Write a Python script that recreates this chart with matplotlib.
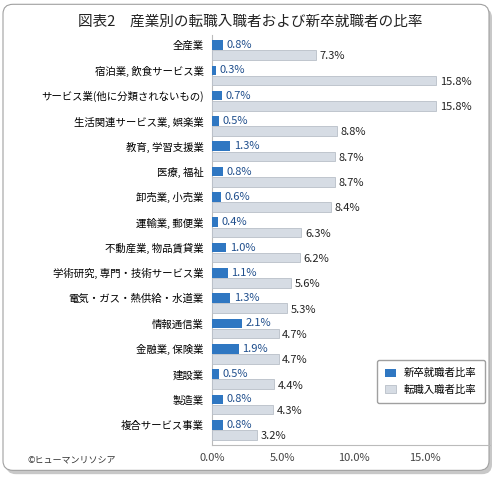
import matplotlib
matplotlib.use("Agg")
import matplotlib.pyplot as plt
from matplotlib.patches import FancyBboxPatch

plt.rcParams['font.family'] = ['Noto Sans CJK JP', 'DejaVu Sans']

categories = ["全産業", "宿泊業, 飲食サービス業", "サービス業(他に分類されないもの)",
              "生活関連サービス業, 娯楽業", "教育, 学習支援業", "医療, 福祉",
              "卸売業, 小売業", "運輸業, 郵便業", "不動産業, 物品賃貸業",
              "学術研究, 専門・技術サービス業", "電気・ガス・熱供給・水道業",
              "情報通信業", "金融業, 保険業", "建設業", "製造業", "複合サービス事業"]
new_grad = [0.8, 0.3, 0.7, 0.5, 1.3, 0.8, 0.6, 0.4, 1.0, 1.1, 1.3, 2.1, 1.9, 0.5, 0.8, 0.8]
job_change = [7.3, 15.8, 15.8, 8.8, 8.7, 8.7, 8.4, 6.3, 6.2, 5.6, 5.3, 4.7, 4.7, 4.4, 4.3, 3.2]
ticks = [0, 5, 10, 15]

BLUE = "#2f77c2"
GRAY = "#d6dce4"

fig = plt.figure(figsize=(5, 4.78), dpi=100)
# frame with shadow
fig.patches.append(FancyBboxPatch((0.012, 0.008), 0.972, 0.975, boxstyle="round,pad=0,rounding_size=0.02",
                                  transform=fig.transFigure, facecolor="#c8c8c8", edgecolor="none", zorder=-2))
fig.patches.append(FancyBboxPatch((0.006, 0.016), 0.972, 0.975, boxstyle="round,pad=0,rounding_size=0.02",
                                  transform=fig.transFigure, facecolor="white", edgecolor="#a0a0a0",
                                  linewidth=0.8, zorder=-1))

ax = fig.add_axes([0.424, 0.069, 0.556, 0.858])
ax.set_zorder(2)
ax.set_facecolor("none")
y = list(range(len(categories)))
yb = [v - 0.2 for v in y]
yg = [v + 0.2 for v in y]
ax.barh(yb, new_grad, height=0.38, color=BLUE, zorder=3)
ax.barh(yg, job_change, height=0.38, color=GRAY, edgecolor="#b8bfc8", linewidth=0.6, zorder=3)
for yy, v in zip(yb, new_grad):
    ax.text(v + 0.25, yy, f"{v:.1f}%", va="center", fontsize=8, color="#1f4e8c")
for yy, v in zip(yg, job_change):
    ax.text(v + 0.25, yy + 0.05, f"{v:.1f}%", va="center", fontsize=8, color="#222222")

ax.set_ylim(15.6, -0.6)
ax.set_xlim(0, 19.6)
ax.set_yticks(yb)
ax.set_yticklabels(categories, fontsize=7.5)
ax.set_xticks(ticks)
ax.set_xticklabels([f"{t:.1f}%" for t in ticks], fontsize=8, color="#444444")
ax.tick_params(length=0, pad=6)
for s in ["top", "right"]:
    ax.spines[s].set_visible(False)
ax.spines["bottom"].set_color("#bbbbbb")
ax.spines["left"].set_color("#bbbbbb")

leg = ax.legend(["新卒就職者比率", "転職入職者比率"], loc="lower right",
                bbox_to_anchor=(1.0, 0.09), fontsize=7.5, frameon=True, fancybox=True,
                handlelength=1.0, handleheight=0.8, borderpad=0.8, labelspacing=0.6)
leg.get_frame().set_edgecolor("#888888")

fig.text(0.5, 0.955, "図表2　産業別の転職入職者および新卒就職者の比率", ha="center", va="center",
         fontsize=10.5, color="#222222")
fig.text(0.055, 0.038, "©ヒューマンリソシア", fontsize=6.5, color="#333333", va="center")

fig.savefig("out.png", dpi=100)
